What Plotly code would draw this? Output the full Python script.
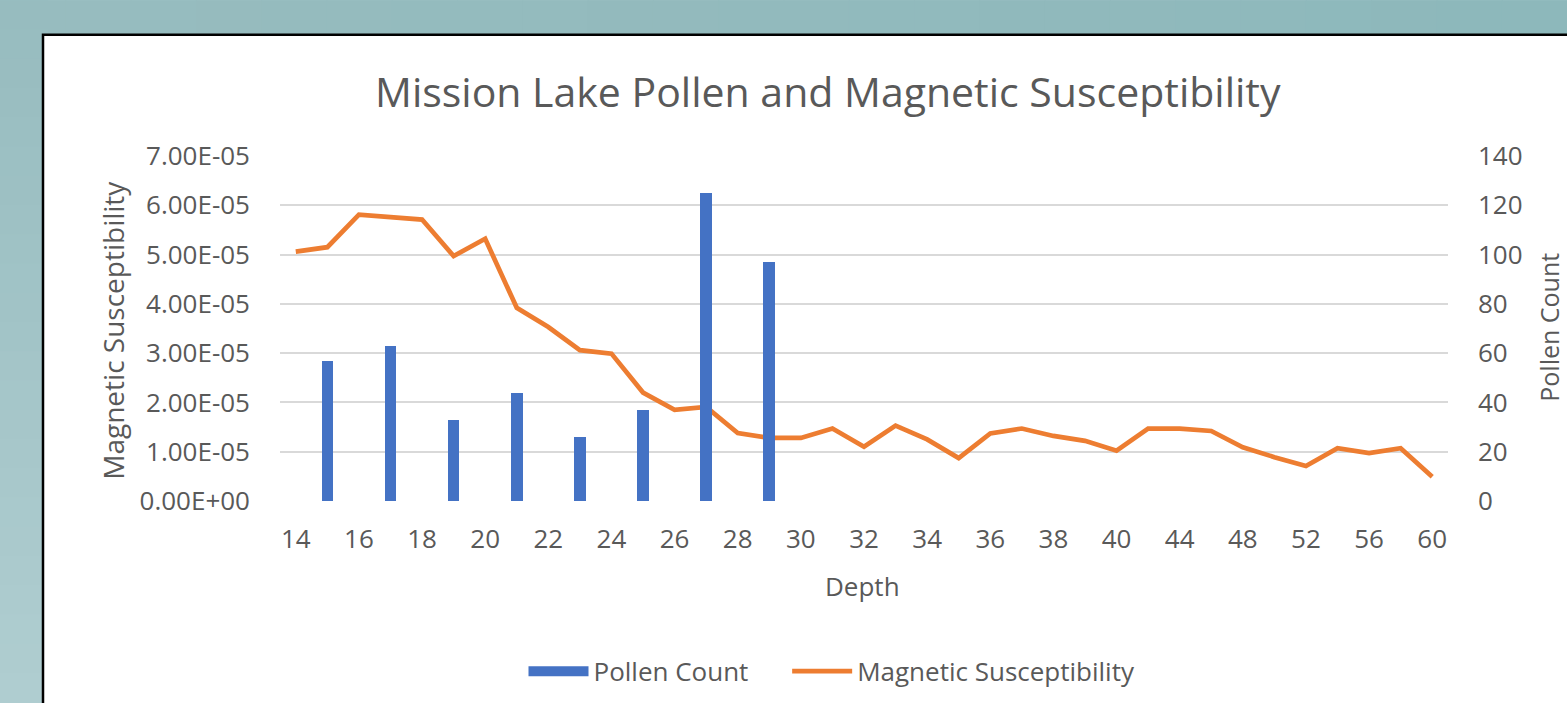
import plotly.graph_objects as go

# ---------------- data ----------------
depths = [str(d) for d in list(range(14, 41)) + list(range(42, 61, 2))]
mag_susc = [5.06e-5, 5.15e-5, 5.81e-5, 5.76e-5, 5.71e-5, 4.97e-5, 5.32e-5, 3.92e-5,
            3.53e-5, 3.06e-5, 2.99e-5, 2.20e-5, 1.85e-5, 1.91e-5, 1.38e-5, 1.28e-5,
            1.28e-5, 1.47e-5, 1.10e-5, 1.53e-5, 1.25e-5, 0.87e-5, 1.37e-5, 1.47e-5,
            1.32e-5, 1.22e-5, 1.02e-5, 1.47e-5, 1.47e-5, 1.42e-5, 1.09e-5, 0.89e-5,
            0.71e-5, 1.07e-5, 0.97e-5, 1.07e-5, 0.49e-5]
pollen_depths = ["15", "17", "19", "21", "23", "25", "27", "29"]
pollen_count = [57, 63, 33, 44, 26, 37, 125, 97]

x_tick_labels = depths[::2]
left_ticks = [i * 1e-5 for i in range(8)]
left_tick_text = ["%.2E" % v for v in left_ticks]
right_ticks = list(range(0, 141, 20))

# ---------------- layout constants ----------------
W, H = 1567, 703
L, R_EDGE, T, B_EDGE = 280, 1448, 156, 501.5
FONT = "Open Sans"
GREY = "#595959"
BAR_BLUE = "#4472c4"
LINE_ORANGE = "#ed7d31"


def px_x(p):
    return (p - L) / (R_EDGE - L)


def px_y(p):
    return (B_EDGE - p) / (B_EDGE - T)


def mix(c1, c2, t):
    a = [int(c1[i:i + 2], 16) for i in (1, 3, 5)]
    b = [int(c2[i:i + 2], 16) for i in (1, 3, 5)]
    return "#" + "".join("%02x" % round(a[k] + (b[k] - a[k]) * t) for k in range(3))


fig = go.Figure()
fig.add_trace(go.Bar(
    x=pollen_depths, y=pollen_count, name="Pollen Count", showlegend=False,
    marker=dict(color=BAR_BLUE, line=dict(width=0)), width=0.37, yaxis="y2",
))
# legend swatch for the bars (wide rectangle, as in the reference)
fig.add_trace(go.Scatter(
    x=[None], y=[None], name="Pollen Count" + "\u00a0" * 5, mode="lines", yaxis="y2",
    line=dict(color=BAR_BLUE, width=17),
))
fig.add_trace(go.Scatter(
    x=depths, y=mag_susc, name="Magnetic Susceptibility", mode="lines",
    line=dict(color=LINE_ORANGE, width=4.7),
))

# background: soft diagonal gradient outside the white chart box
bg_shapes = []
TOP_L, TOP_R, BOT_L = "#97bcbf", "#8db8bb", "#afcdd0"
n = 24
for i in range(n):
    x0 = i * W / n
    x1 = (i + 1) * W / n
    bg_shapes.append(dict(type="rect", xref="paper", yref="paper",
                          x0=px_x(x0), x1=px_x(x1 + 1), y0=px_y(0), y1=px_y(40),
                          fillcolor=mix(TOP_L, TOP_R, i / (n - 1)), line=dict(width=0),
                          layer="below"))
for i in range(n):
    y0 = i * H / n
    y1 = (i + 1) * H / n
    bg_shapes.append(dict(type="rect", xref="paper", yref="paper",
                          x0=px_x(0), x1=px_x(48), y0=px_y(y0), y1=px_y(y1 + 1),
                          fillcolor=mix(TOP_L, BOT_L, i / (n - 1)), line=dict(width=0),
                          layer="below"))

box = dict(type="rect", xref="paper", yref="paper", x0=px_x(43), x1=px_x(1700),
           y0=px_y(34.5), y1=px_y(800), fillcolor="white",
           line=dict(color="black", width=2.5), layer="below")

fig.update_layout(
    width=W, height=H,
    margin=dict(l=L, r=W - R_EDGE, t=T, b=H - B_EDGE, autoexpand=False),
    paper_bgcolor="#9fc3c6",
    plot_bgcolor="white",
    font=dict(family=FONT, color=GREY, size=26),
    showlegend=True,
    legend=dict(orientation="h", x=px_x(832), xanchor="center", y=px_y(672), yanchor="middle",
                font=dict(size=26, color=GREY), bgcolor="rgba(0,0,0,0)", itemwidth=60,
                traceorder="normal", tracegroupgap=0),
    bargap=0,
    xaxis=dict(type="category", categoryorder="array", categoryarray=depths,
               tickvals=x_tick_labels, ticktext=x_tick_labels, showgrid=False,
               showline=False, ticks="", ticklabelstandoff=20,
               tickfont=dict(size=26, color=GREY), range=[-0.5, len(depths) - 0.5]),
    yaxis=dict(range=[0, 7e-5], tickvals=left_ticks, ticktext=left_tick_text,
               showgrid=True, gridcolor="#d9d9d9", gridwidth=1.8, zeroline=False,
               showline=False, ticks="", ticklabelstandoff=29,
               tickfont=dict(size=26, color=GREY)),
    yaxis2=dict(range=[0, 140], tickvals=right_ticks, overlaying="y", side="right",
                showgrid=False, zeroline=False, showline=False, ticks="",
                ticklabelstandoff=29, tickfont=dict(size=26, color=GREY)),
    shapes=bg_shapes + [box],
    annotations=[
        dict(text="Mission Lake Pollen and Magnetic Susceptibility", xref="paper", yref="paper",
             x=px_x(828), y=px_y(91), xanchor="center", yanchor="middle", showarrow=False,
             font=dict(size=41, color=GREY, family=FONT)),
        dict(text="Magnetic Susceptibility", xref="paper", yref="paper",
             x=px_x(113), y=px_y(331), xanchor="center", yanchor="middle", showarrow=False,
             textangle=-90, font=dict(size=28, color=GREY, family=FONT)),
        dict(text="Pollen Count", xref="paper", yref="paper",
             x=px_x(1549), y=px_y(328), xanchor="center", yanchor="middle", showarrow=False,
             textangle=-90, font=dict(size=25, color=GREY, family=FONT)),
        dict(text="Depth", xref="paper", yref="paper",
             x=px_x(862), y=px_y(587), xanchor="center", yanchor="middle", showarrow=False,
             font=dict(size=26, color=GREY, family=FONT)),
    ],
)

fig.write_html("out.html", post_script="document.body.style.margin='0';",
               config={"displayModeBar": False})
